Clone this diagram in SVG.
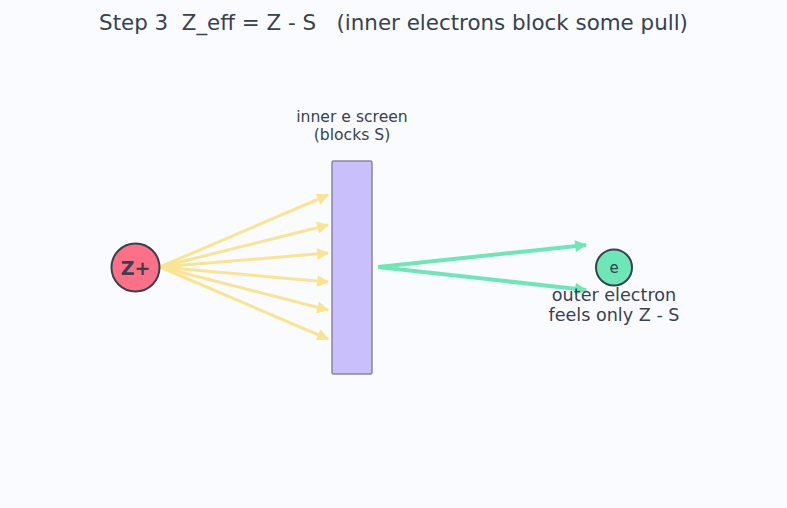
<svg xmlns="http://www.w3.org/2000/svg" width="787" height="508" viewBox="0 0 787 508">
<style>
text{font-family:"DejaVu Sans",sans-serif;fill:#374151;white-space:pre}
.y{stroke:#f9e492;stroke-width:3;fill:none;marker-end:url(#ay)}
.g{stroke:#6ee7b7;stroke-width:4;fill:none;marker-end:url(#ag)}
</style>
<defs>
<marker id="ay" viewBox="0 0 10 10" refX="9" refY="5" markerWidth="4.5" markerHeight="4" orient="auto" markerUnits="strokeWidth"><path d="M0,0L10,5L0,10z" fill="#f9e492"/></marker>
<marker id="ag" viewBox="0 0 10 10" refX="9" refY="5" markerWidth="3.5" markerHeight="3" orient="auto" markerUnits="strokeWidth"><path d="M0,0L10,5L0,10z" fill="#6ee7b7"/></marker>
</defs>
<rect width="787" height="508" fill="#fafbfe"/>
<text x="393.5" y="30" font-size="21.4" text-anchor="middle" xml:space="preserve">Step 3  Z_eff = Z - S   (inner electrons block some pull)</text>
<g id="connectors">
<line class="y" x1="160" y1="267" x2="328" y2="195"/>
<line class="y" x1="160" y1="267" x2="328" y2="225"/>
<line class="y" x1="160" y1="267" x2="328" y2="253"/>
<line class="y" x1="160" y1="267" x2="328" y2="282"/>
<line class="y" x1="160" y1="267" x2="328" y2="310"/>
<line class="y" x1="160" y1="267" x2="328" y2="339"/>
<line class="g" x1="378" y1="267" x2="586" y2="245"/>
<line class="g" x1="378" y1="267" x2="586" y2="290"/>
</g>
<g id="nucleus">
<circle cx="135.5" cy="267.5" r="24" fill="#fd7085" stroke="#374151" stroke-width="2"/>
<text x="135.5" y="274.5" font-size="19" font-weight="bold" text-anchor="middle">Z+</text>
</g>
<g id="screen">
<rect x="332" y="161" width="40" height="213" rx="1.5" fill="#c9c0fb" stroke="#8a84a6" stroke-width="1.5"/>
<text x="352" y="122" font-size="15.6" text-anchor="middle">inner e screen</text>
<text x="352" y="140" font-size="15.6" text-anchor="middle">(blocks S)</text>
</g>
<g id="electron">
<circle cx="614" cy="267.5" r="18" fill="#6ee7b7" stroke="#374151" stroke-width="2"/>
<text x="614" y="273" font-size="15" text-anchor="middle">e</text>
<text x="614" y="300.5" font-size="17.6" text-anchor="middle">outer electron</text>
<text x="614" y="321" font-size="17.6" text-anchor="middle">feels only Z - S</text>
</g>
</svg>
